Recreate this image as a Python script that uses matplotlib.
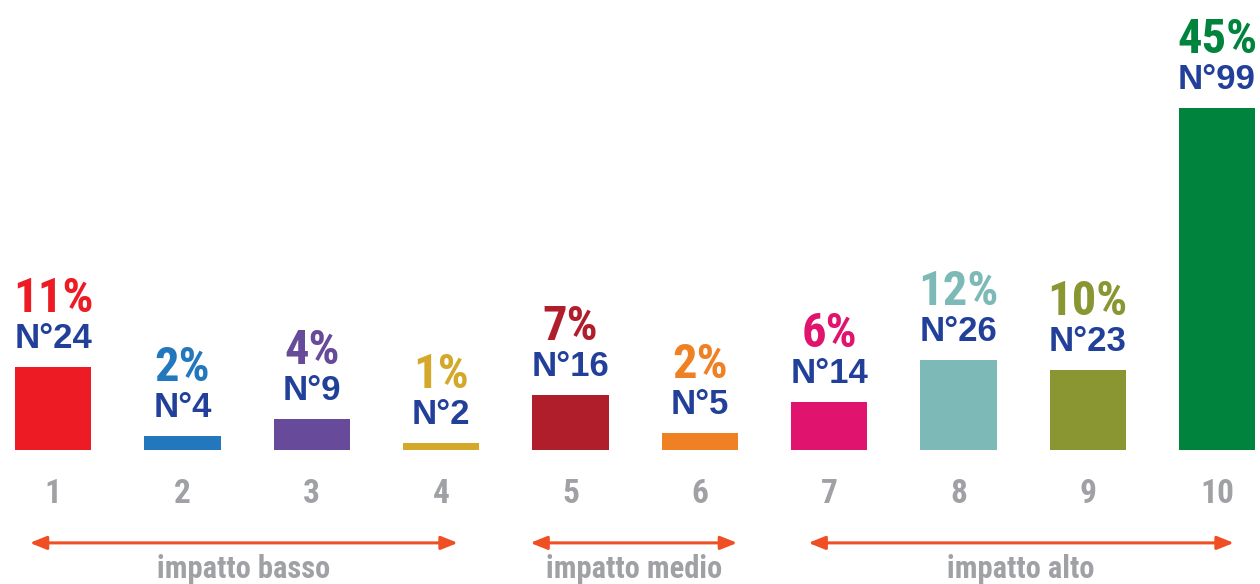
import matplotlib
matplotlib.use("Agg")
import matplotlib.pyplot as plt
from matplotlib import font_manager

# data
scores = [1, 2, 3, 4, 5, 6, 7, 8, 9, 10]
counts = [24, 4, 9, 2, 16, 5, 14, 26, 23, 99]
percents = ["11%", "2%", "4%", "1%", "7%", "2%", "6%", "12%", "10%", "45%"]
colors = ["#ED1C24", "#2277BD", "#674A9A", "#D4A92A", "#B11E2B",
          "#F08024", "#E0146E", "#7DB9B6", "#8A9632", "#00843D"]
groups = ["impatto basso", "impatto medio", "impatto alto"]
group_spans = [(0.82, 4.13), (4.69, 6.29), (6.84, 10.13)]

NUM_C = "#22409A"
GREY = "#A0A1A5"
ARROW_C = "#F04E23"
WIDE = ["Liberation Sans", "DejaVu Sans"]


def pick_condensed():
    """First condensed family that has a real bold face installed."""
    cands = ["Roboto Condensed", "Barlow Condensed", "Fira Sans Condensed",
             "Archivo Narrow", "PT Sans Narrow", "Asap Condensed",
             "Encode Sans Condensed", "IBM Plex Sans Condensed",
             "Sofia Sans Condensed", "Saira Condensed", "Oswald"]
    have = {}
    for f in font_manager.fontManager.ttflist:
        w = f.weight if isinstance(f.weight, int) else font_manager.weight_dict.get(f.weight, 400)
        have.setdefault(f.name, set()).add(w)
    for c in cands:
        if any(w >= 600 for w in have.get(c, ())):
            return c
    for c in ["Fjalla One", "Antonio", "Pathway Gothic One"]:
        if c in have:
            return c
    return "DejaVu Sans"


NARROW = [pick_condensed(), "DejaVu Sans"]

fig = plt.figure(figsize=(12.6, 5.84), dpi=100)
ax = fig.add_axes([0, 0, 1, 1])
ax.set_xlim(0.59, 10.332)
ax.set_ylim(-38.8, 130.2)
ax.axis("off")

ax.bar(scores, counts, width=0.59, color=colors, zorder=2)

for x, n, p, c in zip(scores, counts, percents, colors):
    ax.annotate(f"N°{n}", (x, n), xytext=(0, 19), textcoords="offset pixels",
                ha="center", va="baseline", fontsize=25, fontweight="bold",
                color=NUM_C, family=WIDE)
    ax.annotate(p, (x, n), xytext=(0, 55), textcoords="offset pixels",
                ha="center", va="baseline", fontsize=35, fontweight="bold",
                color=c, family=NARROW)
    ax.text(x, -15.3, str(x), ha="center", va="baseline", fontsize=24,
            fontweight="bold", color=GREY, family=NARROW)

for label, (x0, x1) in zip(groups, group_spans):
    ax.annotate("", xy=(x1, -26.9), xytext=(x0, -26.9),
                arrowprops=dict(arrowstyle="<|-|>,head_length=1.0,head_width=0.4",
                                color=ARROW_C, lw=2.2, shrinkA=0, shrinkB=0))
    ax.text((x0 + x1) / 2, -37.0, label, ha="center", va="baseline",
            fontsize=22, fontweight="bold", color=GREY, family=NARROW)

fig.savefig("out.png", dpi=100)
